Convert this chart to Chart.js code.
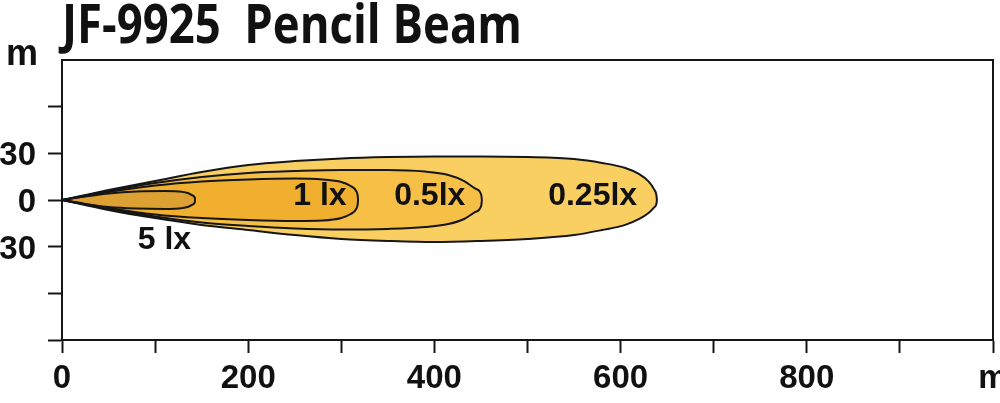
<!DOCTYPE html>
<html>
<head>
<meta charset="utf-8">
<title>JF-9925 Pencil Beam</title>
<script src="https://cdn.jsdelivr.net/npm/chart.js@4.4.0/dist/chart.umd.min.js"></script>
<style>
  html, body { margin: 0; padding: 0; background: #fff; }
  #wrap { position: relative; width: 1000px; height: 403px; }
</style>
</head>
<body>
<div id="wrap"><canvas id="beamChart" width="1000" height="403"></canvas></div>
<script>
// isolux contours: distance (m) and edge above / below the beam axis (m)
const dist025 = [0, 20, 50, 100, 150, 200, 250, 300, 350, 400, 450, 500, 550, 580, 605, 620, 630, 636, 638.5, 639];
const top025  = [0, 2.6, 6.4, 12.2, 18, 22.5, 25, 26.7, 27.6, 28, 28, 27.6, 26.3, 23.8, 20.6, 16.7, 12, 6.8, 3, 0];
const bot025  = [0, -2.6, -6.4, -11.6, -16, -19.3, -22.5, -25, -26.3, -27, -26.3, -25, -22.5, -19.3, -16, -12.2, -8.4, -4.8, -2.4, 0];

const dist05 = [0, 20, 50, 100, 150, 200, 250, 300, 350, 390, 415, 432, 444, 450.3, 451];
const top05  = [0, 2.2, 5.8, 10.9, 14.8, 17.4, 18.6, 19.3, 19.3, 18.3, 16.1, 12.2, 7.3, 3.4, 0];
const bot05  = [0, -2.2, -5.8, -10.6, -14.5, -16.7, -18.3, -19, -18.6, -17.4, -15.4, -12.2, -7.7, -3.6, 0];

const dist1 = [0, 20, 50, 100, 150, 200, 250, 280, 300, 310, 316, 317.6, 318];
const top1  = [0, 1.9, 5.1, 9.3, 11.9, 13.2, 13.8, 13.2, 11.6, 9.0, 5.8, 2.8, 0];
const bot1  = [0, -1.9, -5.1, -9.3, -11.6, -12.9, -13.5, -13.2, -11.6, -9.0, -5.8, -2.8, 0];

const dist5 = [0, 20, 50, 80, 110, 125, 135, 140, 142.6, 143];
const top5  = [0, 1.9, 4.2, 5.5, 5.8, 5.5, 4.5, 3.0, 1.5, 0];
const bot5  = [0, -2.2, -4.5, -5.5, -5.8, -5.5, -4.5, -3.0, -1.5, 0];

const luxNames = ['5 lx', '1 lx', '0.5lx', '0.25lx'];
const xTicks = [0, 200, 400, 600, 800];
const yTicks = [-30, 0, 30];

const fills = ['#DDA032', '#F0AF2E', '#F6BF46', '#F9CF62'];
const lineColor = '#161616';

function pts(xs, ys) {
    return xs.map((x, i) => ({ x: x, y: ys[i] }));
}

const contours = [
    [dist5, top5, bot5],
    [dist1, top1, bot1],
    [dist05, top05, bot05],
    [dist025, top025, bot025]
];

// every contour = upper edge filled down to lower edge
const datasets = [];
contours.forEach((c, i) => {
    const base = {
        showLine: true,
        borderColor: lineColor,
        borderWidth: 2,
        pointRadius: 0,
        cubicInterpolationMode: 'monotone'
    };
    datasets.push(Object.assign({}, base, {
        label: luxNames[i],
        data: pts(c[0], c[1]),
        fill: '+1',
        backgroundColor: fills[i]
    }));
    datasets.push(Object.assign({}, base, {
        label: luxNames[i] + ' low',
        data: pts(c[0], c[2]),
        fill: false
    }));
});

// where the lux names sit (data units)
const labelSpots = [
    { text: '5 lx',   x: 110, y: -26 },
    { text: '1 lx',   x: 277, y: 2.4 },
    { text: '0.5lx',  x: 395, y: 2.4 },
    { text: '0.25lx', x: 570, y: 2.4 }
];

const tickFont = { family: "'Liberation Sans', Arial, sans-serif", size: 33, weight: 'bold' };

const framePlugin = {
    id: 'frame',
    afterDatasetsDraw(chart) {
        const a = chart.chartArea;
        const ctx = chart.ctx;
        ctx.save();
        ctx.strokeStyle = lineColor;
        ctx.lineWidth = 2;
        ctx.strokeRect(a.left, a.top, a.right - a.left, a.bottom - a.top);
        ctx.restore();
    }
};

const textPlugin = {
    id: 'texts',
    afterDraw(chart) {
        const ctx = chart.ctx;
        const xs = chart.scales.x, ys = chart.scales.y;
        ctx.save();
        ctx.fillStyle = '#111';

        // title, squeezed to the width of the original
        ctx.font = "bold 54px 'Open Sans', 'Liberation Sans', sans-serif";
        const title = 'JF-9925  Pencil Beam';
        const w = ctx.measureText(title).width;
        ctx.save();
        ctx.translate(chart.chartArea.left, 43);
        ctx.scale(460 / w, 1);
        ctx.textBaseline = 'alphabetic';
        ctx.fillText(title, 0, 0);
        ctx.restore();

        // unit of the vertical axis
        ctx.font = "bold 36px 'Liberation Sans', Arial, sans-serif";
        ctx.textAlign = 'center';
        ctx.textBaseline = 'alphabetic';
        ctx.fillText('m', 22, 65);

        // lux names
        ctx.font = "bold 32px 'Liberation Sans', Arial, sans-serif";
        ctx.textBaseline = 'middle';
        labelSpots.forEach(l => {
            ctx.fillText(l.text, xs.getPixelForValue(l.x), ys.getPixelForValue(l.y));
        });
        ctx.restore();
    }
};

new Chart(document.getElementById('beamChart'), {
    type: 'scatter',
    data: { datasets: datasets },
    options: {
        responsive: false,
        animation: false,
        layout: { padding: { top: 60, right: 7, left: 0, bottom: 0 } },
        plugins: {
            legend: { display: false },
            tooltip: { enabled: false },
            filler: { drawTime: 'beforeDatasetsDraw' }
        },
        scales: {
            x: {
                type: 'linear',
                min: 0,
                max: 1000,
                ticks: {
                    stepSize: 100,
                    autoSkip: false,
                    maxRotation: 0,
                    color: '#111',
                    padding: 6,
                    font: tickFont,
                    callback: v => v === 1000 ? 'm' : (xTicks.includes(v) ? String(v) : '')
                },
                grid: { drawOnChartArea: false, tickLength: 13, tickColor: lineColor, tickWidth: 2 },
                border: { color: lineColor, width: 2 },
                afterFit: s => { s.height = 63; s.paddingLeft = 0; s.paddingRight = 0; }
            },
            y: {
                type: 'linear',
                min: -90,
                max: 90,
                ticks: {
                    stepSize: 30,
                    autoSkip: false,
                    color: '#111',
                    padding: 12,
                    labelOffset: 3,
                    font: tickFont,
                    callback: v => yTicks.includes(v) ? String(Math.abs(v)) : ''
                },
                grid: {
                    drawOnChartArea: false,
                    tickLength: 14,
                    tickWidth: 2,
                    tickColor: c => (c.tick && c.tick.value === 90) ? 'rgba(0,0,0,0)' : lineColor
                },
                border: { color: lineColor, width: 2 },
                afterFit: s => { s.width = 62; s.paddingTop = 0; s.paddingBottom = 0; }
            }
        }
    },
    plugins: [framePlugin, textPlugin]
});
</script>
</body>
</html>
